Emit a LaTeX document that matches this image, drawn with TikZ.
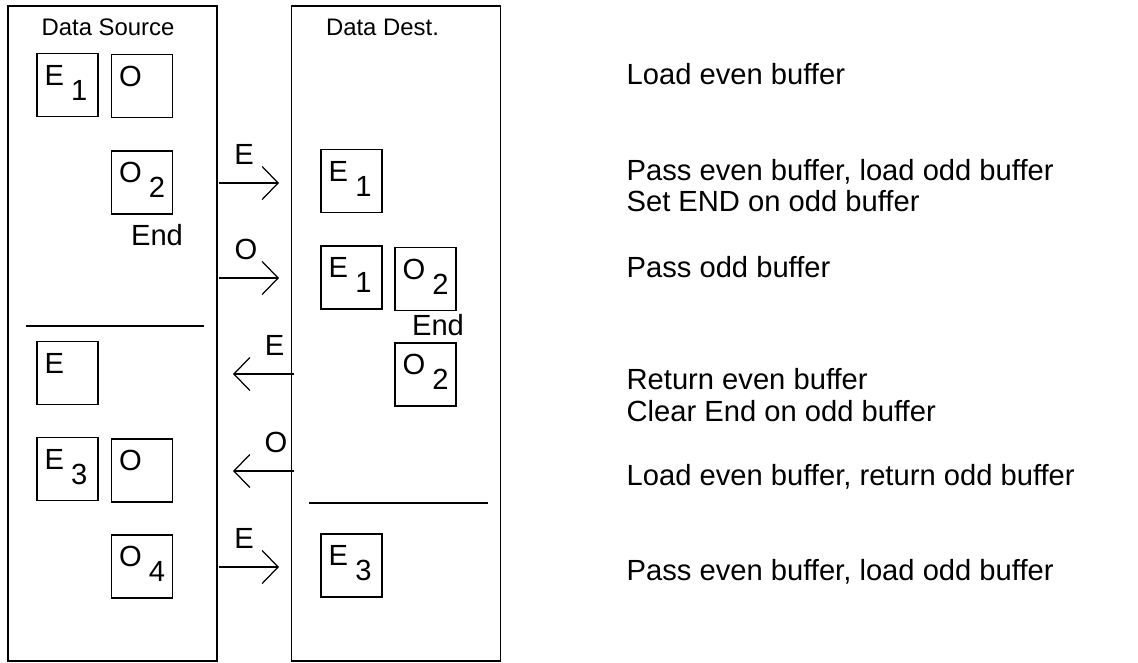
\documentclass[tikz,border=0pt]{standalone}
\usepackage{fontspec}
\setmainfont{Liberation Sans}
\usetikzlibrary{arrows.meta}
\newcommand{\bufsub}[1]{\kern0.25em\lower0.3cm\hbox{#1}}

\begin{document}
\begin{tikzpicture}[x=0.02cm,y=-0.02cm,->,>={Straight Barb[length=0.32cm,width=0.66cm]},
                    line width=0.7pt,
                    big box/.style={draw,minimum width=4.18cm,minimum height=13.1cm,inner sep=0pt},
                    buf node/.style={draw,minimum width=1.22cm,minimum height=1.26cm,inner sep=0pt},
                    buf text/.style={anchor=north west,inner sep=0pt,xshift=0.15cm,yshift=-0.23cm,
                                     font=\fontsize{16.6}{18}\selectfont},
                    title/.style={anchor=base,inner sep=0pt,font=\fontsize{13.6}{16}\selectfont},
                    end mark/.style={anchor=base,inner sep=0pt,font=\fontsize{16.6}{18}\selectfont},
                    arr label/.style={inner sep=0pt,font=\fontsize{16.6}{18}\selectfont},
                    desc/.style={anchor=base west,align=left,inner sep=0pt,font=\fontsize{16.6}{18}\selectfont}
                   ]
  \useasboundingbox (0,0) rectangle (1138,662);

  % the two sides
  \node[big box] (src) at (112.5,333.5) {};
  \node[big box] (dst) at (396,333.5) {};
  \node[title] (srct) at (108,36) {Data Source};
  \node[title] (dstt) at (382.5,36) {Data Dest.};

  % buffers at the source
  \node[buf node,label={[buf text]north west:E\bufsub{1}}] (s1) at (67.5,85) {};
  \node[buf node,label={[buf text]north west:O}] (s2) at (142,86) {};
  \node[buf node,label={[buf text]north west:O\bufsub{2}}] (s3) at (142,182.5) {};
  \node[end mark] (send) at (157,245) {End};
  \draw[-] (26,326) -- (204,326);
  \node[buf node,label={[buf text]north west:E}] (s4) at (67.5,373) {};
  \node[buf node,label={[buf text]north west:E\bufsub{3}}] (s5) at (67.5,469) {};
  \node[buf node,label={[buf text]north west:O}] (s6) at (142,470.5) {};
  \node[buf node,label={[buf text]north west:O\bufsub{4}}] (s7) at (142,566.5) {};

  % buffers at the destination
  \node[buf node,label={[buf text]north west:E\bufsub{1}}] (d1) at (351.5,181) {};
  \node[buf node,label={[buf text]north west:E\bufsub{1}}] (d2) at (351.5,277.5) {};
  \node[buf node,label={[buf text]north west:O\bufsub{2}}] (d3) at (425.5,279) {};
  \node[end mark] (dend) at (438,335) {End};
  \node[buf node,label={[buf text]north west:O\bufsub{2}}] (d4) at (425.5,374.5) {};
  \draw[-] (309,503) -- (488,503);
  \node[buf node,label={[buf text]north west:E\bufsub{3}}] (d5) at (351.5,565.5) {};

  % transfers
  \coordinate (a1) at (219,183);   \coordinate (b1) at (279,183);
  \coordinate (a2) at (219,278);   \coordinate (b2) at (279,278);
  \coordinate (a3) at (294,374);   \coordinate (b3) at (233,374);
  \coordinate (a4) at (294,471);   \coordinate (b4) at (233,471);
  \coordinate (a5) at (219,567);   \coordinate (b5) at (279,567);
  \path%
   (a1) edge node[arr label,above=0.36cm,xshift=-0.1cm] {E} (b1)
   (a2) edge node[arr label,above=0.36cm,xshift=-0.06cm] {O} (b2)
   (a3) edge node[arr label,above=0.36cm,xshift=0.22cm] {E} (b3)
   (a4) edge node[arr label,above=0.36cm,xshift=0.25cm] {O} (b4)
   (a5) edge node[arr label,above=0.36cm,xshift=-0.1cm] {E} (b5);

  % what happens at each step
  \node[desc] (t1) at (626,85) {Load even buffer};
  \node[desc] (t2) at (626,212) {Pass even buffer, load odd buffer\\Set END on odd buffer};
  \node[desc] (t3) at (626,277) {Pass odd buffer};
  \node[desc] (t4) at (626,421) {Return even buffer\\Clear End on odd buffer};
  \node[desc] (t5) at (626,485) {Load even buffer, return odd buffer};
  \node[desc] (t6) at (626,580) {Pass even buffer, load odd buffer};
\end{tikzpicture}
\end{document}
